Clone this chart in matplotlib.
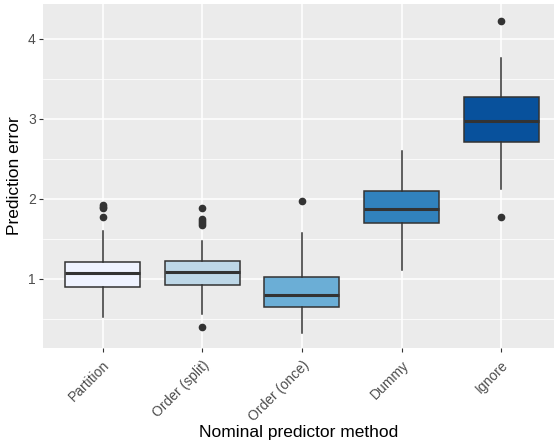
import matplotlib.pyplot as plt
import numpy as np

plt.rcParams['font.family'] = ['Liberation Sans', 'DejaVu Sans']

# === Data ===
methods = ["Partition", "Order (split)", "Order (once)", "Dummy", "Ignore"]
whisker_low = [0.52, 0.56, 0.32, 1.11, 2.125]
q1 = [0.904, 0.92, 0.654, 1.70, 2.71]
median = [1.079, 1.083, 0.80, 1.88, 2.97]
q3 = [1.216, 1.225, 1.03, 2.10, 3.28]
whisker_high = [1.60, 1.475, 1.57, 2.60, 3.76]
outliers = [
    [1.92, 1.90, 1.89, 1.77],
    [1.89, 1.75, 1.72, 1.70, 1.67, 0.40],
    [1.97],
    [],
    [4.23, 1.775],
]
colors = ["#EFF3FF", "#BDD7E7", "#6BAED6", "#3182BD", "#08519C"]

# === Figure ===
fig = plt.figure(figsize=(5.54, 4.45), dpi=100)
ax = fig.add_axes([42.7 / 554, 1 - 348 / 445, 1 - 42.7 / 554, 344 / 445])
ax.set_facecolor("#EBEBEB")

stats = []
for i in range(len(methods)):
    stats.append(dict(med=median[i], q1=q1[i], q3=q3[i],
                      whislo=whisker_low[i], whishi=whisker_high[i],
                      fliers=outliers[i]))

pos = np.arange(1, len(methods) + 1)
bp = ax.bxp(stats, positions=pos, widths=0.75, patch_artist=True,
            showcaps=False,
            boxprops=dict(edgecolor="#333333", linewidth=1.1),
            medianprops=dict(color="#333333", linewidth=2.2),
            whiskerprops=dict(color="#333333", linewidth=1.1),
            flierprops=dict(marker="o", markerfacecolor="#333333",
                            markeredgecolor="#333333", markersize=4.5))
for patch, c in zip(bp["boxes"], colors):
    patch.set_facecolor(c)
for art in bp["boxes"] + bp["medians"] + bp["whiskers"] + bp["fliers"]:
    art.set_zorder(3)

# === Axes setup ===
ax.set_xlim(0.4, 5.53)
ax.set_ylim(0.1375, 4.4375)
ax.set_xticks(pos)
ax.set_xticklabels(methods, rotation=45, ha="right", va="top",
                   rotation_mode="anchor", fontsize=10, color="#4D4D4D")
ax.set_yticks([1, 2, 3, 4])
ax.set_yticklabels(["1", "2", "3", "4"], fontsize=10, color="#4D4D4D")
ax.set_yticks([0.5, 1.5, 2.5, 3.5], minor=True)
ax.tick_params(axis="both", which="major", length=3, width=0.8, color="#333333", pad=2)
ax.tick_params(axis="x", which="major", pad=4)
ax.tick_params(axis="y", which="minor", length=0)

ax.grid(which="major", color="white", linewidth=1.1, zorder=0)
ax.grid(which="minor", axis="y", color="white", linewidth=0.55, zorder=0)
ax.set_axisbelow(True)
for s in ax.spines.values():
    s.set_visible(False)

ax.set_xlabel("Nominal predictor method", fontsize=12.5, labelpad=1)
ax.set_ylabel("Prediction error", fontsize=12.5, labelpad=4)

fig.savefig("out.png", dpi=100)
